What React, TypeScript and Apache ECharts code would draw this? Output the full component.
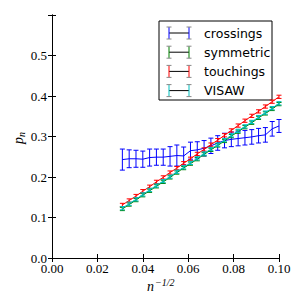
import React, { useEffect, useRef } from "react";
import * as echarts from "echarts";

const xs = [0.031, 0.034, 0.037, 0.040, 0.043, 0.046, 0.049, 0.052, 0.055, 0.058, 0.061, 0.064, 0.067, 0.070, 0.073, 0.076, 0.079, 0.082, 0.085, 0.088, 0.091, 0.094, 0.097, 0.100];
const crossings = [0.243, 0.245, 0.245, 0.244, 0.248, 0.249, 0.249, 0.251, 0.253, 0.252, 0.265, 0.267, 0.271, 0.277, 0.284, 0.290, 0.293, 0.295, 0.297, 0.299, 0.302, 0.304, 0.319, 0.326];
const crossingsErr = [0.026, 0.022, 0.021, 0.020, 0.021, 0.020, 0.020, 0.024, 0.026, 0.022, 0.021, 0.020, 0.019, 0.019, 0.018, 0.018, 0.018, 0.018, 0.018, 0.018, 0.018, 0.018, 0.018, 0.016];
const symmetric = [0.121, 0.132, 0.143, 0.155, 0.166, 0.177, 0.188, 0.199, 0.211, 0.222, 0.233, 0.244, 0.256, 0.267, 0.278, 0.289, 0.301, 0.312, 0.323, 0.334, 0.346, 0.357, 0.368, 0.380];
const touchings = [0.131, 0.142, 0.153, 0.165, 0.176, 0.188, 0.199, 0.211, 0.222, 0.234, 0.245, 0.257, 0.268, 0.280, 0.291, 0.303, 0.315, 0.327, 0.339, 0.351, 0.362, 0.374, 0.386, 0.398];
const visaw = [0.123, 0.134, 0.145, 0.157, 0.168, 0.179, 0.190, 0.201, 0.213, 0.224, 0.235, 0.246, 0.258, 0.269, 0.280, 0.291, 0.303, 0.314, 0.325, 0.336, 0.348, 0.359, 0.370, 0.382];
const smallErr = 0.004;

const seriesNames = ["crossings", "symmetric", "touchings", "VISAW"];
const seriesColors = ["#0000ff", "#008000", "#ff0000", "#00bfbf"];
const xTicks = [0, 0.02, 0.04, 0.06, 0.08, 0.1];
const yTicks = [0, 0.1, 0.2, 0.3, 0.4, 0.5, 0.6];

export default function App() {
  const ref = useRef<HTMLDivElement>(null);
  useEffect(() => {
    if (!ref.current) return;
    const chart = echarts.init(ref.current, null, { renderer: "svg" });
    const allValues = [crossings, symmetric, touchings, visaw];
    const errs = [crossingsErr, xs.map(() => smallErr), xs.map(() => smallErr), xs.map(() => smallErr)];
    const series: any[] = [];
    allValues.forEach((vals, si) => {
      const color = seriesColors[si];
      series.push({
        type: "line",
        name: seriesNames[si],
        data: xs.map((x, i) => [x, vals[i]]),
        showSymbol: false,
        symbol: "none",
        lineStyle: { color, width: 1 },
        z: 2 + si * 2,
        xAxisIndex: 0,
        yAxisIndex: 0,
      });
      series.push({
        type: "custom",
        name: seriesNames[si] + "_err",
        data: xs.map((x, i) => [x, vals[i] - errs[si][i], vals[i] + errs[si][i]]),
        z: 3 + si * 2,
        renderItem: (params: any, api: any) => {
          const x = api.value(0);
          const p1 = api.coord([x, api.value(1)]);
          const p2 = api.coord([x, api.value(2)]);
          const hw = 2.5;
          return {
            type: "group",
            children: [
              { type: "line", shape: { x1: p1[0], y1: p1[1], x2: p2[0], y2: p2[1] }, style: { stroke: color, lineWidth: 1 } },
              { type: "line", shape: { x1: p1[0] - hw, y1: p1[1], x2: p1[0] + hw, y2: p1[1] }, style: { stroke: color, lineWidth: 1 } },
              { type: "line", shape: { x1: p2[0] - hw, y1: p2[1], x2: p2[0] + hw, y2: p2[1] }, style: { stroke: color, lineWidth: 1 } },
            ],
          };
        },
      });
    });

    const legendX = 159, legendY = 21, legendW = 113, legendH = 79;
    const legendChildren: any[] = [
      { type: "rect", shape: { x: legendX, y: legendY, width: legendW, height: legendH }, style: { fill: "#fff", stroke: "#000", lineWidth: 1 } },
    ];
    seriesNames.forEach((name, i) => {
      const cy = 33 + i * 19.2;
      const xa = 169, xb = 189;
      legendChildren.push(
        { type: "line", shape: { x1: xa, y1: cy, x2: xb, y2: cy }, style: { stroke: "#000", lineWidth: 1 } },
        { type: "line", shape: { x1: xa, y1: cy - 6, x2: xa, y2: cy + 6 }, style: { stroke: seriesColors[i], lineWidth: 1 } },
        { type: "line", shape: { x1: xb, y1: cy - 6, x2: xb, y2: cy + 6 }, style: { stroke: seriesColors[i], lineWidth: 1 } },
        { type: "line", shape: { x1: xa - 2.5, y1: cy - 6, x2: xa + 2.5, y2: cy - 6 }, style: { stroke: "#888", lineWidth: 1 } },
        { type: "line", shape: { x1: xa - 2.5, y1: cy + 6, x2: xa + 2.5, y2: cy + 6 }, style: { stroke: "#888", lineWidth: 1 } },
        { type: "line", shape: { x1: xb - 2.5, y1: cy - 6, x2: xb + 2.5, y2: cy - 6 }, style: { stroke: "#888", lineWidth: 1 } },
        { type: "line", shape: { x1: xb - 2.5, y1: cy + 6, x2: xb + 2.5, y2: cy + 6 }, style: { stroke: "#888", lineWidth: 1 } },
        { type: "text", x: 204, y: cy, style: { text: name, fill: "#000", font: "12.5px 'DejaVu Sans'", textVerticalAlign: "middle", verticalAlign: "middle" } }
      );
    });

    const axisCommon = {
      type: "value",
      axisLine: { show: true, lineStyle: { color: "#000", width: 1 } },
      axisTick: { show: true, inside: true, length: 4, lineStyle: { color: "#000" } },
      splitLine: { show: false },
    };

    chart.setOption({
      animation: false,
      backgroundColor: "#fff",
      grid: { left: 52, right: 27, top: 15, bottom: 48 },
      xAxis: [
        {
          ...axisCommon,
          position: "bottom",
          min: 0, max: 0.1, interval: 0.02,
          axisLabel: { show: true, margin: 4, color: "#000", fontFamily: "Liberation Serif", fontSize: 13, formatter: (v: number) => v.toFixed(2), showMaxLabel: true, showMinLabel: true },
        },
        {
          ...axisCommon,
          position: "top",
          min: 0, max: 0.1, interval: 0.02,
          axisLabel: { show: false },
        },
      ],
      yAxis: [
        {
          ...axisCommon,
          position: "left",
          min: 0, max: 0.6, interval: 0.1,
          axisLabel: { show: true, margin: 5, color: "#000", fontFamily: "Liberation Serif", fontSize: 13, formatter: (v: number) => (v > 0.55 ? "" : v.toFixed(1)) },
        },
        {
          ...axisCommon,
          position: "right",
          min: 0, max: 0.6, interval: 0.1,
          axisLabel: { show: false },
        },
      ],
      series,
      graphic: [
        { type: "group", z: 100, children: legendChildren },
        { type: "text", x: 147, y: 279, style: { text: "n", fill: "#000", font: "italic 14px 'Liberation Serif'" } },
        { type: "text", x: 155, y: 277, style: { text: "−1/2", fill: "#000", font: "italic 10px 'Liberation Serif'" } },
        {
          type: "group", x: 25, y: 137, rotation: Math.PI / 2,
          children: [
            { type: "text", x: -7, y: -14, style: { text: "p", fill: "#000", font: "italic 14px 'Liberation Serif'" } },
            { type: "text", x: 0, y: -9, style: { text: "n", fill: "#000", font: "italic 10px 'Liberation Serif'" } },
          ],
        },
      ],
    });
    return () => chart.dispose();
  }, []);
  return <div ref={ref} style={{ position: "fixed", left: 0, top: 0, width: 306, height: 306 }} />;
}
